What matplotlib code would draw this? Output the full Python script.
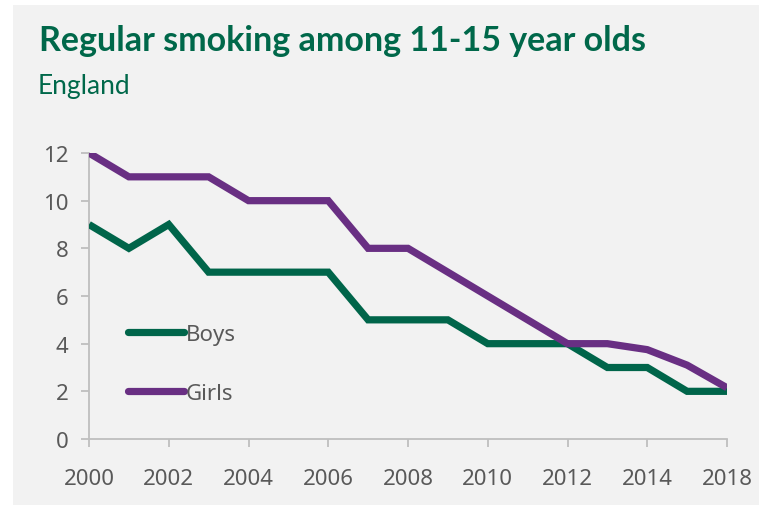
import matplotlib
matplotlib.use("Agg")
import matplotlib.pyplot as plt
from matplotlib.patches import Rectangle

# Data
years = ["2000", "2001", "2002", "2003", "2004", "2005", "2006", "2007", "2008",
         "2009", "2010", "2011", "2012", "2013", "2014", "2016", "2018"]
boys = [9, 8, 9, 7, 7, 7, 7, 5, 5, 5, 4, 4, 4, 3, 3, 2, 2]
girls = [12, 11, 11, 11, 10, 10, 10, 8, 8, 7, 6, 5, 4, 4, 3.75, 3.1, 2.15]
tick_labels = ["2000", "2002", "2004", "2006", "2008", "2010", "2012", "2014", "2018"]

GREEN = "#00654A"
PURPLE = "#692F83"
TEXT_GREEN = "#00684A"
GREY_TEXT = "#595959"
AXIS_GREY = "#BFBFBF"

plt.rcParams["font.family"] = ["Noto Sans", "DejaVu Sans"]

W, H = 759, 506
fig = plt.figure(figsize=(W / 100, H / 100), dpi=100, facecolor="white")

# light grey panel behind everything
fig.patches.append(Rectangle((13 / W, -0.01), 1.01 - 13 / W, 1.01 - 6 / H, transform=fig.transFigure,
                             facecolor="#F2F2F2", edgecolor="none", zorder=-5))

ax = fig.add_axes([89 / W, 66 / H, (727 - 89) / W, (440 - 154) / H])
ax.set_facecolor("none")
ax.set_zorder(2)

x = list(range(len(years)))
ax.plot(x, boys, color=GREEN, lw=5.2, solid_joinstyle="miter", solid_capstyle="butt", label="Boys")
ax.plot(x, girls, color=PURPLE, lw=5.2, solid_joinstyle="miter", solid_capstyle="butt", label="Girls")

ax.set_xlim(0, len(years) - 1)
ax.set_ylim(0, 12)
ax.set_yticks(range(0, 13, 2))
tick_pos = [years.index(t) for t in tick_labels]
ax.set_xticks(tick_pos)
ax.set_xticklabels(tick_labels)

for s in ["top", "right"]:
    ax.spines[s].set_visible(False)
for s in ["left", "bottom"]:
    ax.spines[s].set_color(AXIS_GREY)
    ax.spines[s].set_linewidth(1.3)
    ax.spines[s].set_zorder(0.5)

ax.tick_params(axis="both", colors=AXIS_GREY, length=6, width=1.3, labelcolor=GREY_TEXT,
               labelsize=16)
ax.tick_params(axis="y", pad=9)
ax.tick_params(axis="x", pad=15)

leg = ax.legend(loc="upper left", bbox_to_anchor=(117 / W, 1 - 314 / H), bbox_transform=fig.transFigure,
                frameon=False, handlelength=2.5, handletextpad=0.1, labelspacing=1.7,
                borderpad=0, prop={"size": 16})
for txt in leg.get_texts():
    txt.set_color(GREY_TEXT)
for h in leg.get_lines():
    h.set_solid_capstyle("round")

fig.text(39 / W, 1 - 51 / H, "Regular smoking among 11-15 year olds", color=TEXT_GREEN,
         fontsize=24.5, fontweight="bold", family="Lato", va="baseline", ha="left")
fig.text(38 / W, 1 - 94 / H, "England", color=TEXT_GREEN,
         fontsize=19, family="Lato", va="baseline", ha="left")

fig.savefig("out.png", dpi=100, facecolor="white")
